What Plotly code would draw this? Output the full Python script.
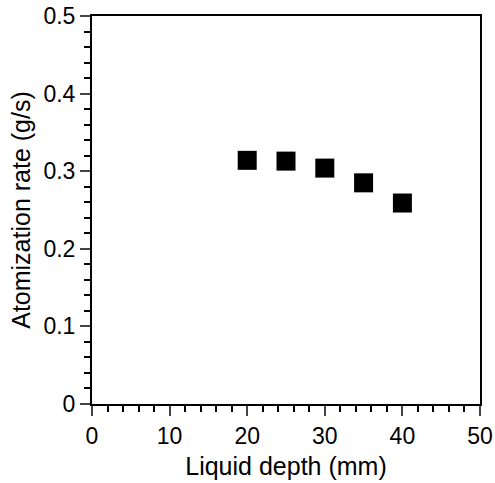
import plotly.graph_objects as go

depth_mm = [20, 25, 30, 35, 40]
atomization_rate = [0.314, 0.313, 0.304, 0.285, 0.259]

x_ticks = [0, 10, 20, 30, 40, 50]
y_ticks = [0, 0.1, 0.2, 0.3, 0.4, 0.5]
y_tick_text = ["0", "0.1", "0.2", "0.3", "0.4", "0.5"]

fig = go.Figure()
fig.add_trace(go.Scatter(
    x=depth_mm, y=atomization_rate, mode="markers",
    marker=dict(symbol="square", size=19, color="black", line=dict(width=0)),
    showlegend=False,
))

font = "Arial"
fig.update_layout(
    width=495, height=483,
    margin=dict(l=92, r=15, t=16, b=79, autoexpand=False),
    paper_bgcolor="white", plot_bgcolor="white",
    font=dict(family=font, color="black", size=23),
    xaxis=dict(
        range=[0, 50], tickvals=x_ticks, ticks="outside", ticklen=10, tickwidth=1.5,
        showline=True, linewidth=2, linecolor="black", mirror=True,
        showgrid=False, zeroline=False, automargin=False,
        minor=dict(dtick=2, ticks="outside", ticklen=6, tickwidth=1.5, tickcolor="black", showgrid=False),
        title=dict(text="Liquid depth (mm)", font=dict(size=25), standoff=10),
        tickfont=dict(size=23),
    ),
    yaxis=dict(
        range=[0, 0.5], tickvals=y_ticks, ticktext=y_tick_text, ticks="outside", ticklen=10, tickwidth=1.5,
        showline=True, linewidth=2, linecolor="black", mirror=True,
        showgrid=False, zeroline=False, automargin=False,
        minor=dict(dtick=0.02, ticks="outside", ticklen=6, tickwidth=1.5, tickcolor="black", showgrid=False),
        title=dict(text="Atomization rate (g/s)", font=dict(size=25), standoff=6),
        tickfont=dict(size=23),
    ),
)
fig.write_html(
    "out.html",
    config={"displayModeBar": False},
    post_script="document.body.style.margin='0';document.body.style.padding='0';",
)
